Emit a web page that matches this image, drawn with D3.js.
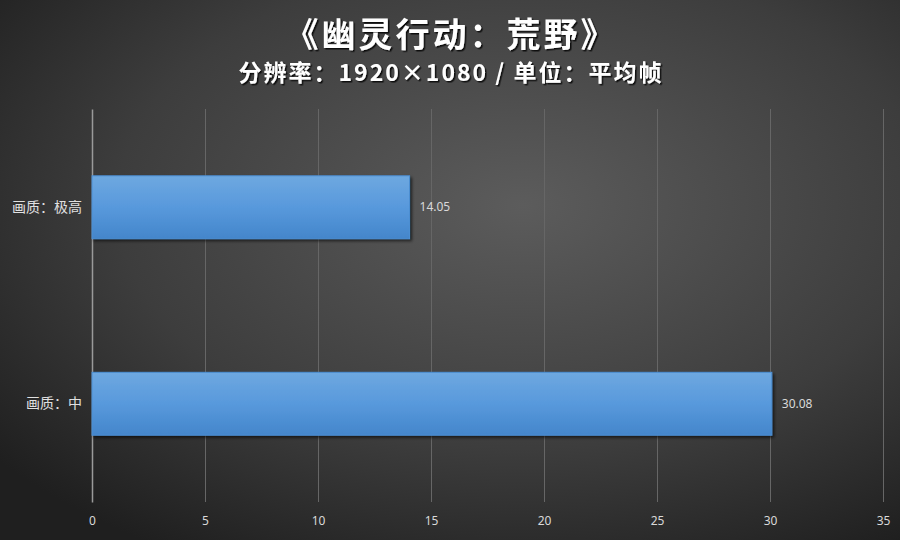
<!DOCTYPE html>
<html>
<head>
<meta charset="utf-8">
<script src="https://cdn.jsdelivr.net/npm/d3@7"></script>
<style>
  html, body { margin: 0; padding: 0; background: #333; }
  svg { display: block; }
</style>
</head>
<body>
<svg id="chart" width="900" height="540"></svg>
<script>
// data
const categories = ['画质：极高', '画质：中'];
const values = [14.05, 30.08];
const tickValues = [0, 5, 10, 15, 20, 25, 30, 35];
const titleText = '《幽灵行动：荒野》';
const subtitleText = '分辨率：1920×1080 / 单位：平均帧';

const width = 900, height = 540;
const margin = { top: 109, right: 17, bottom: 38, left: 92 };
const cjk = '"Noto Sans CJK SC", "Noto Sans", sans-serif';

const svg = d3.select('#chart');
const defs = svg.append('defs');

const bg = defs.append('radialGradient')
  .attr('id', 'bg')
  .attr('cx', '58%').attr('cy', '38%').attr('r', '75%');
bg.append('stop').attr('offset', '0%').attr('stop-color', '#5c5c5c');
bg.append('stop').attr('offset', '60%').attr('stop-color', '#3d3d3d');
bg.append('stop').attr('offset', '100%').attr('stop-color', '#1f1f1f');

const barGrad = defs.append('linearGradient')
  .attr('id', 'bar').attr('x1', 0).attr('y1', 0).attr('x2', 0).attr('y2', 1);
barGrad.append('stop').attr('offset', '0%').attr('stop-color', '#6ea8e0');
barGrad.append('stop').attr('offset', '50%').attr('stop-color', '#5899dc');
barGrad.append('stop').attr('offset', '100%').attr('stop-color', '#4486cb');

const shadow = defs.append('filter').attr('id', 'shadow')
  .attr('x', '-5%').attr('y', '-10%').attr('width', '115%').attr('height', '130%');
shadow.append('feDropShadow')
  .attr('dx', 2).attr('dy', 2).attr('stdDeviation', 1.5)
  .attr('flood-color', '#000').attr('flood-opacity', 0.6);

const textShadow = defs.append('filter').attr('id', 'tshadow');
textShadow.append('feDropShadow')
  .attr('dx', 1.5).attr('dy', 1.5).attr('stdDeviation', 0.6)
  .attr('flood-color', '#000').attr('flood-opacity', 0.8);

svg.append('rect').attr('width', width).attr('height', height).attr('fill', 'url(#bg)');

const x = d3.scaleLinear()
  .domain([0, 35])
  .range([margin.left, width - margin.right]);

const y = d3.scaleBand()
  .domain(categories)
  .range([margin.top, height - margin.bottom])
  .paddingInner(0.68)
  .paddingOuter(0.34);

// gridlines
svg.append('g')
  .selectAll('line')
  .data(tickValues.filter(d => d > 0))
  .join('line')
  .attr('x1', d => x(d) + 0.5).attr('x2', d => x(d) + 0.5)
  .attr('y1', margin.top).attr('y2', height - margin.bottom)
  .attr('stroke', '#666')
  .attr('stroke-width', 1);

// value axis labels
const xAxis = svg.append('g')
  .attr('transform', `translate(0,${height - margin.bottom})`)
  .call(d3.axisBottom(x).tickValues(tickValues).tickSize(0).tickPadding(14));
xAxis.select('.domain').remove();
xAxis.selectAll('text')
  .attr('fill', '#d9d9d9')
  .style('font-family', '"Noto Sans", sans-serif')
  .style('font-size', '12px');

// category axis
const yAxis = svg.append('g')
  .attr('transform', `translate(${margin.left},0)`)
  .call(d3.axisLeft(y).tickSize(0).tickPadding(10));
yAxis.select('.domain')
  .attr('stroke', '#9a9a9a')
  .attr('stroke-width', 1.5);
yAxis.selectAll('text')
  .attr('fill', '#e0e0e0')
  .style('font-family', cjk)
  .style('font-size', '14px');

// bars
svg.append('g')
  .selectAll('rect')
  .data(values)
  .join('rect')
  .attr('x', x(0))
  .attr('y', (d, i) => y(categories[i]))
  .attr('width', d => x(d) - x(0))
  .attr('height', y.bandwidth())
  .attr('fill', 'url(#bar)')
  .attr('stroke', '#4c8fd4')
  .attr('stroke-width', 1)
  .attr('filter', 'url(#shadow)');

// value labels
svg.append('g')
  .selectAll('text')
  .data(values)
  .join('text')
  .attr('x', d => x(d) + 10)
  .attr('y', (d, i) => y(categories[i]) + y.bandwidth() / 2)
  .attr('dy', '0.35em')
  .attr('fill', '#d9d9d9')
  .style('font-family', '"Noto Sans", sans-serif')
  .style('font-size', '12px')
  .text(d => d.toFixed(2));

// titles
svg.append('text')
  .attr('x', 451).attr('y', 47)
  .attr('text-anchor', 'middle')
  .attr('fill', '#fff')
  .attr('filter', 'url(#tshadow)')
  .style('font-family', cjk)
  .style('font-weight', 'bold')
  .style('font-size', '34px')
  .style('letter-spacing', '3px')
  .text(titleText);

svg.append('text')
  .attr('x', 451).attr('y', 81)
  .attr('text-anchor', 'middle')
  .attr('fill', '#fff')
  .attr('filter', 'url(#tshadow)')
  .style('font-family', cjk)
  .style('font-weight', 'bold')
  .style('font-size', '23px')
  .style('letter-spacing', '2px')
  .text(subtitleText);
</script>
</body>
</html>
